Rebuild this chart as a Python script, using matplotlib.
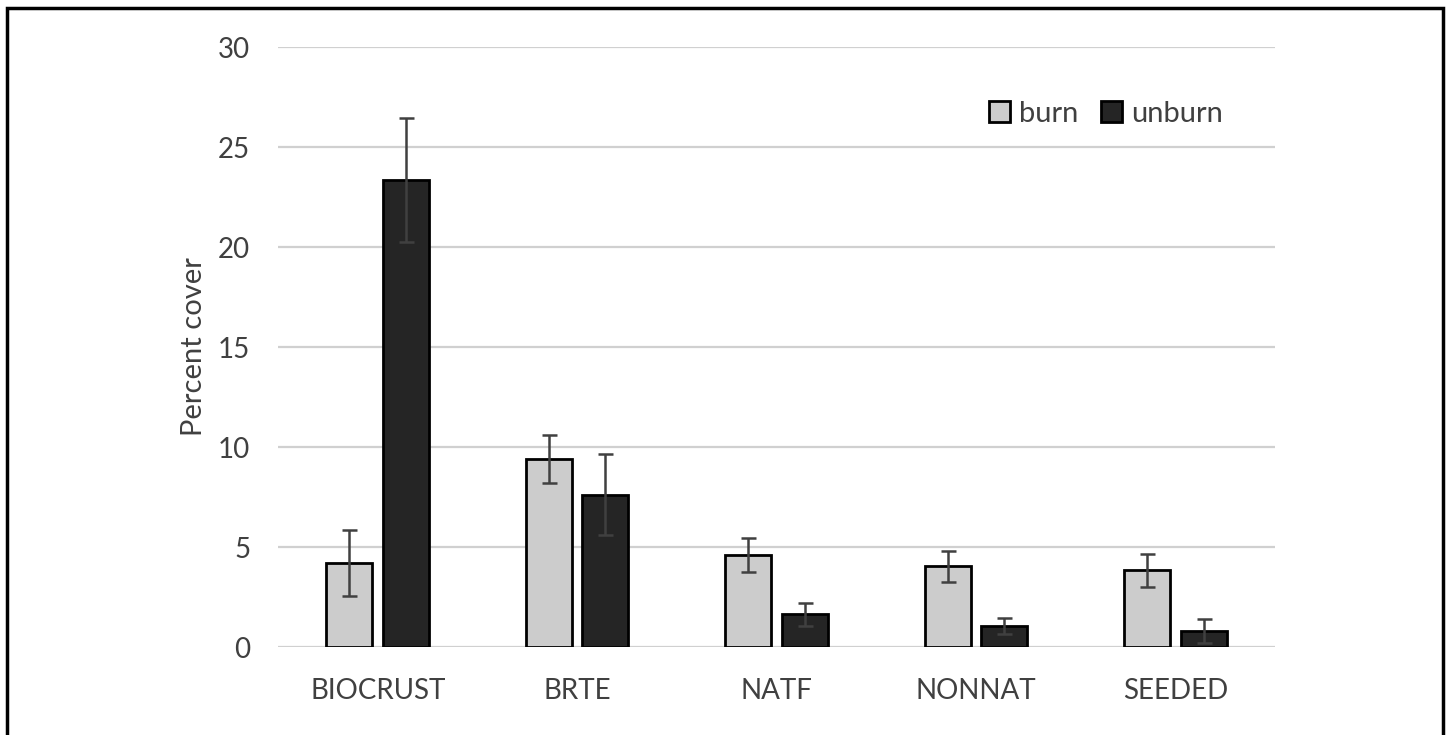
import matplotlib
matplotlib.use("Agg")
import matplotlib.pyplot as plt
from matplotlib.patches import Rectangle
import numpy as np

categories = ["BIOCRUST", "BRTE", "NATF", "NONNAT", "SEEDED"]
burn = [4.2, 9.4, 4.6, 4.03, 3.83]
burn_err = [1.65, 1.2, 0.83, 0.79, 0.82]
unburn = [23.35, 7.62, 1.63, 1.03, 0.8]
unburn_err = [3.1, 2.04, 0.58, 0.4, 0.6]

plt.rcParams['font.family'] = ['Lato', 'DejaVu Sans']
text_color = "#404040"

fig = plt.figure(figsize=(14.49, 7.35), dpi=100)
ax = fig.add_axes([278 / 1449, 1 - 647 / 735, 997 / 1449, 600 / 735])

x = np.arange(len(categories))
w = 0.231
off = 0.142
err_kw = dict(ecolor="#404040", elinewidth=1.8, capsize=5.4, capthick=1.8)

ax.bar(x - off, burn, w, yerr=burn_err, color="#cccccc", edgecolor="black",
       linewidth=2, error_kw=err_kw, label="burn", zorder=3)
ax.bar(x + off, unburn, w, yerr=unburn_err, color="#252525", edgecolor="black",
       linewidth=2, error_kw=err_kw, label="unburn", zorder=3)

ax.set_xlim(-0.5, len(categories) - 0.5)
ax.set_ylim(0, 30)
ax.set_yticks([0, 5, 10, 15, 20, 25, 30])
ax.set_xticks(x)
ax.set_xticklabels(categories)
ax.tick_params(axis="both", length=0, labelsize=20, labelcolor=text_color)
ax.tick_params(axis="x", pad=22)
ax.tick_params(axis="y", pad=20)
ax.yaxis.grid(True, color="#d0d0d0", linewidth=1.6, zorder=0)
ax.set_axisbelow(True)
for s in ax.spines.values():
    s.set_visible(False)

ax.set_ylabel("Percent cover", fontsize=21, color=text_color, labelpad=8)

leg = ax.legend(loc="center right", bbox_to_anchor=(1223 / 1449, 1 - 114 / 735),
                bbox_transform=fig.transFigure, ncol=2, frameon=False,
                fontsize=21, handlelength=0.72, handleheight=0.72, handletextpad=0.3,
                columnspacing=0.8, labelcolor=text_color, borderpad=0, borderaxespad=0)

fig.patches.append(Rectangle((7 / 1449, -0.05), 1436 / 1449, 1.05 - 8 / 735,
                             transform=fig.transFigure, fill=False,
                             edgecolor="black", linewidth=2.5))

fig.savefig("out.png", dpi=100)
